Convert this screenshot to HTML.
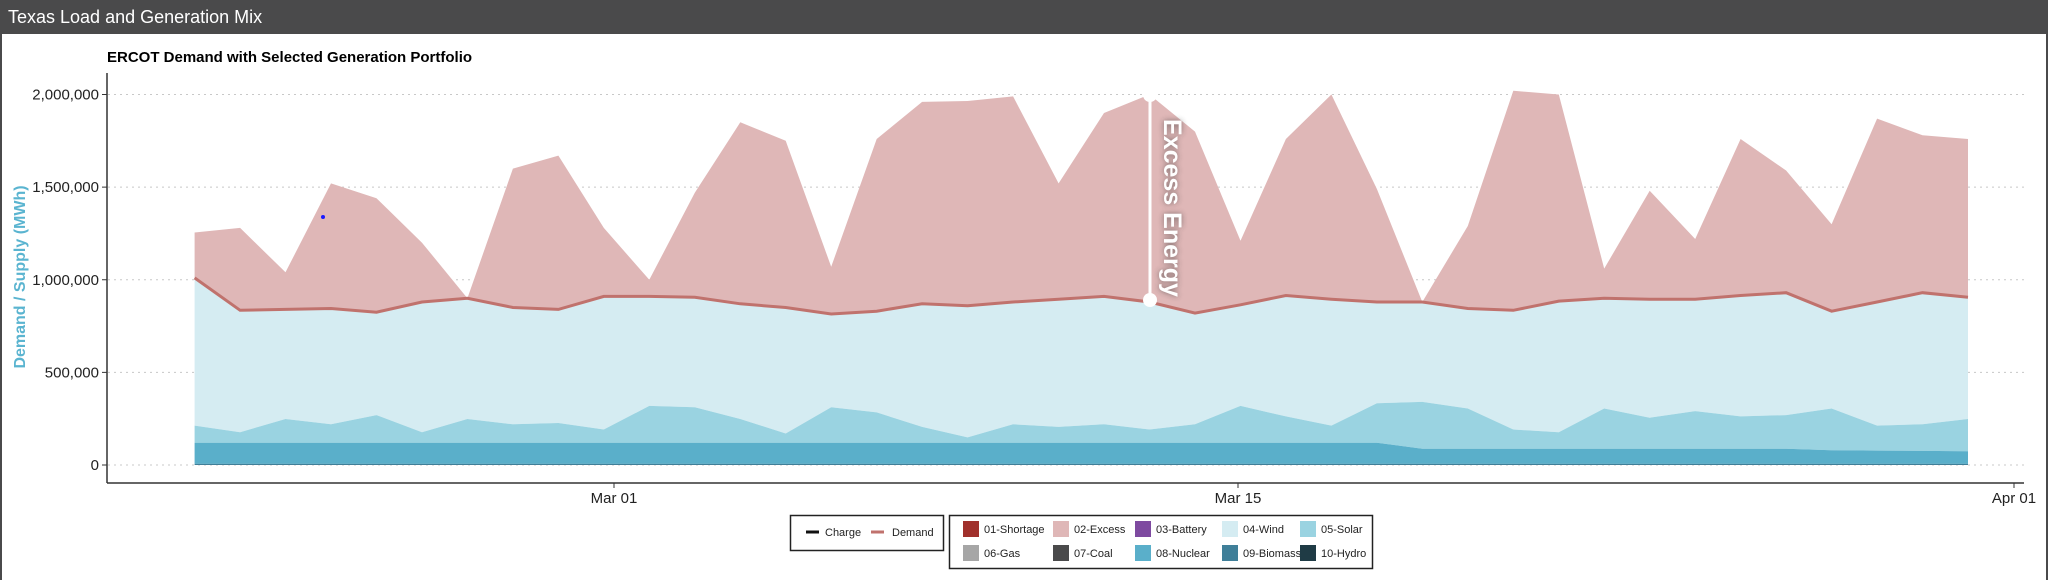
<!DOCTYPE html>
<html><head><meta charset="utf-8"><style>
body{margin:0;width:2048px;height:580px;overflow:hidden;background:#fff;font-family:"Liberation Sans",sans-serif}
#bar{position:absolute;left:0;top:0;width:2048px;height:34px;background:#4a4a4b;color:#fff;font-size:18px;line-height:34px;padding-left:8px;box-sizing:border-box}
#frame{position:absolute;left:0;top:34px;width:2048px;height:546px;border-left:2px solid #4a4a4b;border-right:2px solid #4a4a4b;box-sizing:border-box}
</style></head><body>
<div id="bar">Texas Load and Generation Mix</div>
<div id="frame"></div>
<svg id="s" width="2048" height="580" style="position:absolute;left:0;top:0" xmlns="http://www.w3.org/2000/svg">
<defs><filter id="sh" x="-50%" y="-50%" width="200%" height="200%"><feGaussianBlur stdDeviation="3"/></filter></defs>
<text x="107" y="62" font-size="15" font-weight="bold" fill="#000">ERCOT Demand with Selected Generation Portfolio</text>
<g id="grid" stroke="#c8c8c8" stroke-dasharray="2,4" stroke-width="1"></g>
<g id="areas"></g>
<line x1="107" y1="73" x2="107" y2="483" stroke="#333" stroke-width="1.5"/>
<line x1="107" y1="483" x2="2024" y2="483" stroke="#333" stroke-width="1.5"/>
<g id="ticks" font-size="15" fill="#222"></g>
<text transform="translate(25,277) rotate(-90)" text-anchor="middle" font-size="16" font-weight="bold" fill="#5ab4d0">Demand / Supply (MWh)</text>
<circle cx="323" cy="217" r="2" fill="#1a1aff"/>
<g>
<line x1="1153" y1="97" x2="1153" y2="302" stroke="#333" stroke-width="6" opacity="0.5" filter="url(#sh)"/>
<text transform="translate(1164,208) rotate(90)" text-anchor="middle" font-size="25" font-weight="bold" fill="#333" opacity="0.6" filter="url(#sh)">Excess Energy</text>
<line x1="1150" y1="95" x2="1150" y2="300" stroke="#fff" stroke-width="3"/>
<circle cx="1150" cy="95" r="7" fill="#fff"/>
<circle cx="1150" cy="300" r="7" fill="#fff"/>
<text transform="translate(1164,208) rotate(90)" text-anchor="middle" font-size="25" font-weight="bold" fill="#fff">Excess Energy</text>
</g>
<g font-size="11" fill="#222">
<rect x="790.5" y="515.5" width="153" height="35" fill="#fff" stroke="#222" stroke-width="1.5"/>
<line x1="806" y1="532" x2="819" y2="532" stroke="#111" stroke-width="3"/>
<text x="825" y="536">Charge</text>
<line x1="871" y1="532" x2="884" y2="532" stroke="#c0726d" stroke-width="3"/>
<text x="892" y="536">Demand</text>
<rect x="949.5" y="515.5" width="423" height="53" fill="#fff" stroke="#222" stroke-width="1.5"/>
<g id="leg"></g>
</g>
</svg>
<script>
(function(){
var NS="http://www.w3.org/2000/svg";
function el(t,a,p){var e=document.createElementNS(NS,t);for(var k in a)e.setAttribute(k,a[k]);if(p)p.appendChild(e);return e;}
function Y(v){return 465-v*370.5/2e6;}
var x0=194.6,dx=(1968-194.6)/39;
var tp=[1255,1280,1040,1520,1440,1200,900,1600,1670,1280,1000,1470,1850,1750,1070,1760,1960,1965,1990,1520,1900,2000,1800,1210,1760,2000,1490,880,1290,2020,2000,1060,1480,1220,1760,1590,1300,1870,1780,1760];
var dem=[1010,835,840,845,825,880,900,850,840,910,910,905,870,850,815,830,870,860,880,895,910,880,820,865,915,895,880,880,845,835,885,900,895,895,915,930,830,880,930,905];
var solY=[325,330,320,324,317,330,320,324,323,328,310,311,320,331,311,315,326,334,324,326,324,328,324,310,318,325,308,307,312,328,330,312,319,314,318,317,312,325,324,320];
var sol=solY.map(function(y){return (355-y)/282*2e6/1000;});
var nuc=tp.map(function(_,i){return i<27?120:(i<36?88:80-(i-36)*2);});
var bio=tp.map(function(){return 6;});
var zero=tp.map(function(){return 0;});
var A=document.getElementById("areas");
function area(up,lo,fill){var d="";up.forEach(function(v,i){d+=(i?"L":"M")+(x0+i*dx).toFixed(1)+","+Y(v*1000).toFixed(1);});for(var i=lo.length-1;i>=0;i--)d+="L"+(x0+i*dx).toFixed(1)+","+Y(lo[i]*1000).toFixed(1);el("path",{d:d+"Z",fill:fill},A);}
var g=document.getElementById("grid");
[0,500000,1000000,1500000,2000000].forEach(function(v){el("line",{x1:108,x2:2024,y1:Y(v),y2:Y(v)},g);});
area(tp,dem,"#dfb7b7");
area(dem,sol,"#d5ecf2");
area(sol,nuc,"#9ad3e1");
area(nuc,bio,"#5aafca");
area(bio,zero,"#3f7f99");
var pd="";dem.forEach(function(v,i){pd+=(i?"L":"M")+(x0+i*dx).toFixed(1)+","+Y(v*1000).toFixed(1);});
el("path",{d:pd,fill:"none",stroke:"#c0726d","stroke-width":3},A);
var t=document.getElementById("ticks");
[[0,"0"],[500000,"500,000"],[1000000,"1,000,000"],[1500000,"1,500,000"],[2000000,"2,000,000"]].forEach(function(a){el("line",{x1:102,x2:107,y1:Y(a[0]),y2:Y(a[0]),stroke:"#333"},t);var e=el("text",{x:99,y:Y(a[0])+5,"text-anchor":"end"},t);e.textContent=a[1];});
[[614,"Mar 01"],[1238,"Mar 15"],[2014,"Apr 01"]].forEach(function(a){el("line",{x1:a[0],x2:a[0],y1:483,y2:488,stroke:"#333"},t);var e=el("text",{x:a[0],y:503,"text-anchor":"middle"},t);e.textContent=a[1];});
var L=document.getElementById("leg");
var items=[["01-Shortage","#a0302c"],["02-Excess","#dfb7b7"],["03-Battery","#7e4aa0"],["04-Wind","#d5ecf2"],["05-Solar","#9ad3e1"],["06-Gas","#a6a6a6"],["07-Coal","#4a4a4b"],["08-Nuclear","#5aafca"],["09-Biomass","#3f7f99"],["10-Hydro","#1f3b45"]];
var cx=[963,1053,1135,1222,1300];
items.forEach(function(it,i){var col=i%5,row=Math.floor(i/5);var y=row?553:529;el("rect",{x:cx[col],y:y-8,width:16,height:16,fill:it[1]},L);var e=el("text",{x:cx[col]+21,y:y+4},L);e.textContent=it[0];});
})();
</script>
</body></html>
